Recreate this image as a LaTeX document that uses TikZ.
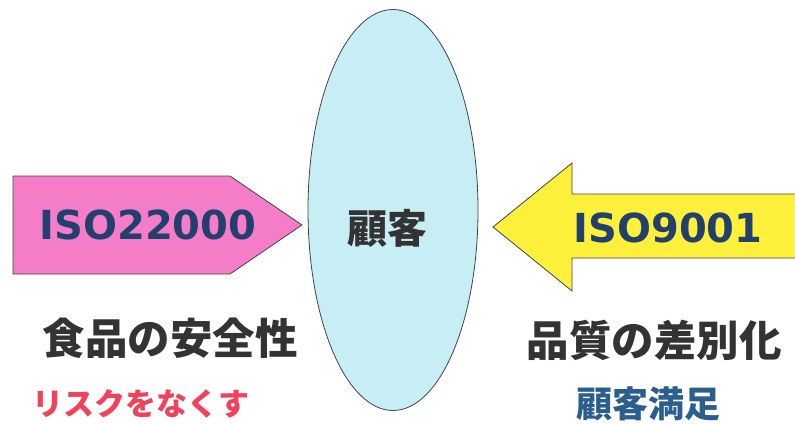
\documentclass[tikz,border=0pt]{standalone}
\usepackage{fontspec}
\setmainfont{DejaVu Sans}
\newfontfamily\cjk{Noto Sans CJK JP}
\usetikzlibrary{shapes.geometric}
\definecolor{pinkfill}{HTML}{F57CC6}
\definecolor{yellowfill}{HTML}{FFF03C}
\definecolor{cyanfill}{HTML}{C6EEF4}
\definecolor{isoblue}{HTML}{22406E}
\definecolor{darktext}{HTML}{333333}
\definecolor{redtext}{HTML}{F2415A}
\definecolor{bluetext}{HTML}{2A5E8E}
\definecolor{edge}{HTML}{444444}
\tikzset{
  arrowshape/.style={draw=edge, line width=0.8pt, line join=miter},
  isolabel/.style={font=\fontsize{40}{40}\selectfont\bfseries, text=isoblue, inner sep=0pt},
  bigjp/.style={font=\cjk\bfseries\fontsize{42.5}{42.5}\selectfont, text=darktext, inner sep=0pt},
}
\begin{document}
\begin{tikzpicture}[x=1pt,y=-1pt]
\useasboundingbox (0,0) rectangle (795,423);
\fill[white] (0,0) rectangle (795,423);
% customer ellipse
\node[ellipse, draw=edge, line width=0.8pt, fill=cyanfill, minimum width=170pt, minimum height=401pt, inner sep=0pt] (cust) at (393,210) {};
\node[font=\cjk\bfseries\fontsize{40}{40}\selectfont, text=darktext, inner sep=0pt] (custlabel) at (387,228) {顧客};
% pink arrow (ISO22000)
\path[arrowshape, fill=pinkfill] (13,176) -- (230,176) -- (302,225) -- (230,274) -- (13,274) -- cycle;
\node[isolabel] (iso22000) at (148,225) {ISO22000};
% yellow arrow (ISO9001)
\path[arrowshape, fill=yellowfill] (800,194) -- (572,194) -- (572,163) -- (493,227) -- (572,291) -- (572,258) -- (800,258);
\node[isolabel] (iso9001) at (668,228) {ISO9001};
% texts
\node[bigjp] (food) at (170,338) {食品の安全性};
\node[bigjp] (quality) at (654,340) {品質の差別化};
\node[font=\cjk\bfseries\fontsize{31}{31}\selectfont, text=redtext, inner sep=0pt] (risk) at (141,404) {リスクをなくす};
\node[font=\cjk\bfseries\fontsize{36}{36}\selectfont, text=bluetext, inner sep=0pt] (satisf) at (648,404) {顧客満足};
\end{tikzpicture}
\end{document}
